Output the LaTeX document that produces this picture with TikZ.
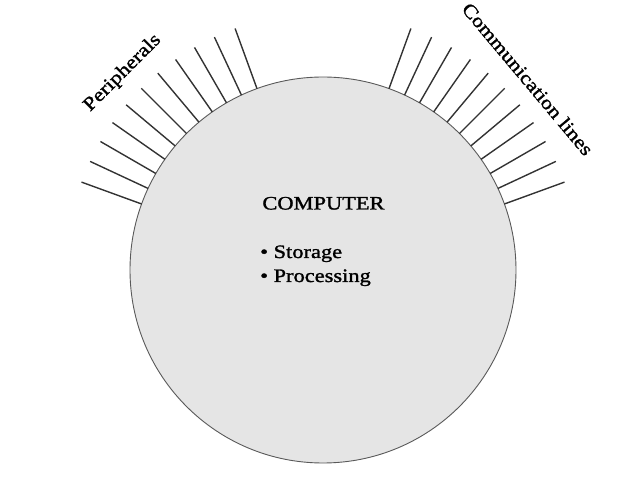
\documentclass[tikz,border=0pt]{standalone}
\usepackage{fontspec}
\setmainfont{Liberation Serif}[FakeStretch=1.18,FakeBold=1.4]
\usetikzlibrary{calc}
\begin{document}
\begin{tikzpicture}[x=1pt,y=1pt,
    wire/.style={draw=black!80,line width=1.4pt},
    lbl/.style={inner sep=0pt,font=\fontsize{19}{24}\selectfont}]
    \useasboundingbox (0,0) rectangle (630,493);
    \node[circle,draw=black!65,line width=0.9pt,fill=black!10,
          minimum size=386pt,inner sep=0pt,outer sep=0pt] (computer) at (323,223) {};

    \foreach \a in {110,115,...,160}
        \draw[wire] (computer.\a) -- ++(\a:64);
    \foreach \a in {20,25,...,70}
        \draw[wire] (computer.\a) -- ++(\a:64);

    \node[lbl,rotate=45] (peripherals) at ($(computer.center)+(135.5:281)$) {Peripherals};
    \node[lbl,rotate=-50] (commlines) at ($(computer.center)+(43:280)$) {Communication lines};

    \node[lbl,anchor=base] (title) at (323.5,283.5) {COMPUTER};
    \node[lbl,anchor=base west] (storage) at (260,235) {\textbullet\ Storage};
    \node[lbl,anchor=base west] (processing) at (260,211) {\textbullet\ Processing};
\end{tikzpicture}
\end{document}
